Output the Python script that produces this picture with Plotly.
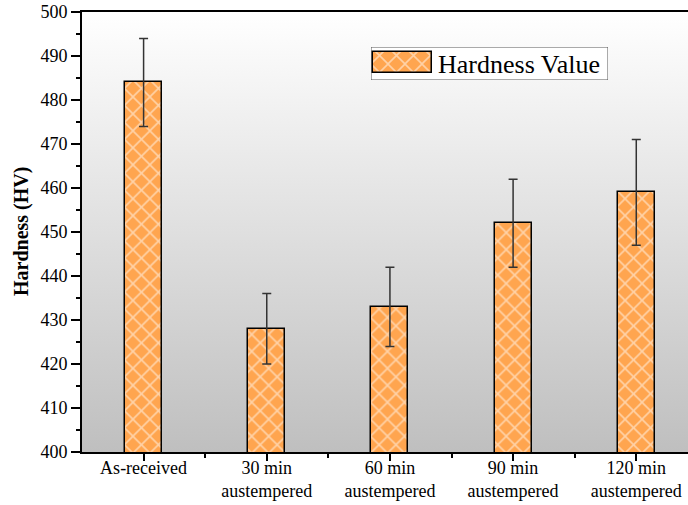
import plotly.graph_objects as go

# Vickers hardness for each heat-treatment condition
conditions = ["As-received", "30 min<br>austempered", "60 min<br>austempered",
              "90 min<br>austempered", "120 min<br>austempered"]
hardness = [484, 428, 433, 452, 459]
hardness_err = [10, 8, 9, 10, 12]
y_ticks = [400, 410, 420, 430, 440, 450, 460, 470, 480, 490, 500]

W, H = 688, 505
ML, MR, MT, MB = 82, 0, 12, 53
PW, PH = W - ML - MR, H - MT - MB

SERIF = "Liberation Serif, Times New Roman, serif"
ORANGE = "#FFA54F"
x_pos = list(range(len(conditions)))
x_range = [-0.5, 4.42]
y_range = [400, 500]


def px_x(p):
    return (p - ML) / PW


def px_y(p):
    return (H - MB - p) / PH


bar_marker = dict(color=ORANGE,
                  line=dict(color="black", width=1.5),
                  pattern=dict(shape="x", fgcolor="white", bgcolor=ORANGE,
                               size=12, solidity=0.25))

fig = go.Figure()

# Plot-area background: vertical grey-to-white gradient on the base axes
fig.add_trace(go.Scatter(
    x=[x_range[0], x_range[1], x_range[1], x_range[0], x_range[0]],
    y=[y_range[0], y_range[0], y_range[1], y_range[1], y_range[0]],
    mode="lines", line=dict(width=0), fill="toself",
    fillgradient=dict(type="vertical",
                      colorscale=[[0, "#bfbfbf"], [1, "#ffffff"]]),
    hoverinfo="skip", showlegend=False,
))

# Bars on overlaying axes so they sit above the gradient
fig.add_trace(go.Bar(
    x=x_pos, y=hardness, width=0.3,
    xaxis="x3", yaxis="y3",
    marker=bar_marker,
    error_y=dict(type="data", array=hardness_err, visible=True,
                 color="#333333", thickness=1.5, width=4.5),
    showlegend=False,
))

# Legend box drawn on its own small axes
box_l, box_r, box_t, box_b = 371, 608, 47, 80
fig.add_trace(go.Bar(
    x=[31.5], y=[21], base=[5], width=[59],
    xaxis="x2", yaxis="y2",
    marker=bar_marker,
    showlegend=False, hoverinfo="skip",
))

fig.add_shape(type="rect", xref="x2", yref="y2", x0=0, x1=box_r - box_l,
              y0=0, y1=box_b - box_t, layer="below",
              fillcolor="white", line=dict(color="#555555", width=1))

fig.add_annotation(xref="x2", yref="y2", x=65, y=(box_b - box_t) / 2 + 1,
                   text="Hardness Value", showarrow=False,
                   xanchor="left", yanchor="middle",
                   font=dict(family=SERIF, size=26, color="black"))

# Y-axis title
fig.add_annotation(xref="paper", yref="paper", x=px_x(21), y=0.5,
                   text="<b>Hardness (HV)</b>", textangle=-90,
                   showarrow=False, xanchor="center", yanchor="middle",
                   font=dict(family=SERIF, size=20, color="black"))

fig.update_layout(
    width=W, height=H,
    margin=dict(l=ML, r=MR, t=MT, b=MB, autoexpand=False),
    paper_bgcolor="white", plot_bgcolor="white",
    font=dict(family=SERIF, color="black"),
    bargap=0,
    xaxis=dict(
        range=x_range, tickmode="array", tickvals=x_pos, ticktext=conditions,
        showgrid=False, zeroline=False, automargin=False,
        showline=True, linecolor="black", linewidth=2, mirror=True,
        ticks="outside", ticklen=7, tickwidth=1.5, tickcolor="black",
        ticklabelstandoff=-9,
        tickfont=dict(family=SERIF, size=18, color="black"),
        minor=dict(tickvals=[0.5, 1.5, 2.5, 3.5], ticks="outside",
                   ticklen=4, tickwidth=1.5, tickcolor="black",
                   showgrid=False),
        fixedrange=True,
    ),
    yaxis=dict(
        range=y_range, tickmode="array", tickvals=y_ticks,
        showgrid=False, zeroline=False, automargin=False,
        showline=True, linecolor="black", linewidth=2,
        ticks="outside", ticklen=9, tickwidth=1.5, tickcolor="black",
        tickfont=dict(family=SERIF, size=18, color="black"),
        minor=dict(dtick=5, ticks="outside", ticklen=4, tickwidth=1.5,
                   tickcolor="black", showgrid=False),
        fixedrange=True,
    ),
    xaxis3=dict(overlaying="x", range=x_range, visible=False,
                fixedrange=True),
    yaxis3=dict(overlaying="y", range=y_range, visible=False,
                fixedrange=True),
    xaxis2=dict(domain=[px_x(box_l), px_x(box_r)], range=[0, box_r - box_l],
                anchor="y2", visible=False, fixedrange=True),
    yaxis2=dict(domain=[px_y(box_b), px_y(box_t)], range=[box_b - box_t, 0],
                anchor="x2", visible=False, fixedrange=True),
)

fig.write_html("out.html")
